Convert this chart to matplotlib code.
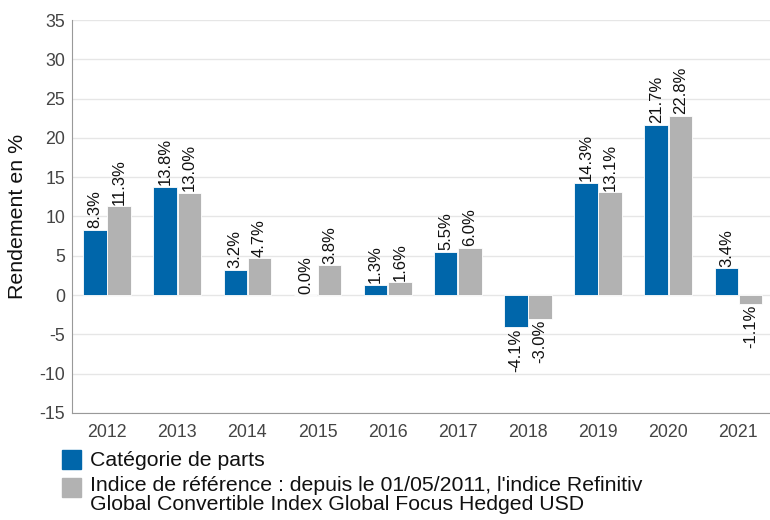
import numpy as np
import matplotlib.pyplot as plt
from matplotlib.patches import Rectangle

years = ['2012', '2013', '2014', '2015', '2016', '2017', '2018', '2019', '2020', '2021']
fund = [8.3, 13.8, 3.2, 0.0, 1.3, 5.5, -4.1, 14.3, 21.7, 3.4]
index = [11.3, 13.0, 4.7, 3.8, 1.6, 6.0, -3.0, 13.1, 22.8, -1.1]
fund_label = 'Catégorie de parts'
index_label = "Indice de référence : depuis le 01/05/2011, l'indice Refinitiv\nGlobal Convertible Index Global Focus Hedged USD"

blue = '#0066aa'
gray = '#b2b2b2'

plt.rcParams['font.family'] = ['Liberation Sans', 'DejaVu Sans']
plt.rcParams['axes.unicode_minus'] = False

fig = plt.figure(figsize=(7.7, 5.2), dpi=100)
ax = fig.add_axes([0.0935, 0.206, 0.9065, 0.7555])

x = np.arange(len(years))
w = 0.335
b1 = ax.bar(x - w / 2 - 0.005, fund, w, color=blue, edgecolor='white', linewidth=0.6, zorder=3)
b2 = ax.bar(x + w / 2 + 0.005, index, w, color=gray, edgecolor='white', linewidth=0.6, zorder=3)

for bars, vals in [(b1, fund), (b2, index)]:
    for bar, v in zip(bars, vals):
        cx = bar.get_x() + bar.get_width() / 2
        if v >= 0:
            ax.annotate(f'{v:.1f}%', (cx, v), xytext=(0, 1), textcoords='offset points',
                        rotation=90, ha='center', va='bottom', fontsize=12, color='#111111')
        else:
            ax.annotate(f'{v:.1f}%', (cx, v), xytext=(0, -1), textcoords='offset points',
                        rotation=90, ha='center', va='top', fontsize=12, color='#111111')

ax.set_ylim(-15, 35)
ax.set_yticks(range(-15, 36, 5))
ax.set_xlim(-0.5, 9.45)
ax.set_xticks(x)
ax.set_xticklabels(years)
ax.tick_params(axis='both', length=0, labelsize=12.8, labelcolor='#444444')
ax.tick_params(axis='x', pad=8)
ax.tick_params(axis='y', pad=5)
ax.grid(axis='y', color='#e6e6e6', linewidth=1, zorder=0)
ax.set_axisbelow(True)
for s in ['top', 'right']:
    ax.spines[s].set_visible(False)
for s in ['left', 'bottom']:
    ax.spines[s].set_color('#999999')
ax.set_ylabel('Rendement en %', fontsize=15.4, color='#111111', labelpad=9)

# legend drawn by hand so the square sits on the first line
fig.patches.append(Rectangle((62 / 770, 1 - 469 / 520), 19 / 770, 19 / 520,
                             transform=fig.transFigure, color=blue))
fig.patches.append(Rectangle((62 / 770, 1 - 497 / 520), 19 / 770, 19 / 520,
                             transform=fig.transFigure, color=gray))
fig.text(90 / 770, 1 - 461 / 520, fund_label, fontsize=15.3, va='center', color='#111111')
fig.text(90 / 770, 1 - 476 / 520, index_label, fontsize=15.3, va='top', color='#111111',
         linespacing=1.0)

fig.savefig('out.png', dpi=100)
